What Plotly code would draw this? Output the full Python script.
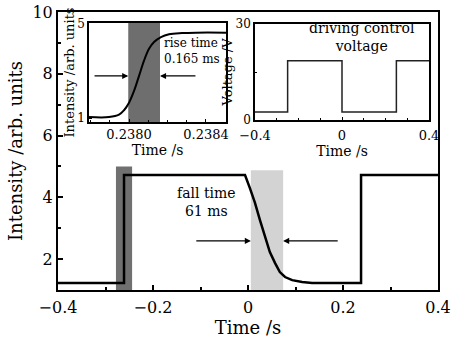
import plotly.graph_objects as go

# ---- main trace: intensity vs time ----
main_t = [-0.4, -0.261, -0.261, -0.0063, 0.004, 0.0147, 0.025, 0.036, 0.046, 0.057,
          0.067, 0.078, 0.093, 0.114, 0.135, 0.238, 0.238, 0.4]
main_I = [1.23, 1.23, 4.72, 4.72, 4.30, 3.82, 3.27, 2.72, 2.23, 1.87,
          1.58, 1.42, 1.32, 1.26, 1.23, 1.23, 4.72, 4.72]
rise_band_main = [-0.278, -0.244]
fall_band_main = [0.006, 0.074]
main_xticks = [-0.4, -0.2, 0, 0.2, 0.4]
main_xticktext = ["\u22120.4", "\u22120.2", "0", "0.2", "0.4"]
main_yticks = [2, 4, 6, 8, 10]

# ---- inset 1: rise detail ----
rise_t = [0.237792, 0.237896, 0.237948, 0.237974, 0.238000, 0.238026, 0.238052, 0.238078,
          0.238104, 0.238130, 0.238166, 0.238208, 0.238275, 0.238348, 0.238504]
rise_I = [1.04, 1.04, 1.14, 1.33, 1.65, 2.15, 2.79, 3.44,
          3.94, 4.23, 4.44, 4.56, 4.61, 4.63, 4.63]
rise_band = [0.237996, 0.238161]
inset1_xticks = [0.2380, 0.2384]
inset1_xticktext = ["0.2380", "0.2384"]
inset1_yticks = [1, 5]

# ---- inset 2: driving voltage ----
volt_t = [-0.4, -0.25, -0.25, 0.0, 0.0, 0.25, 0.25, 0.4]
volt_V = [2.5, 2.5, 18.5, 18.5, 2.5, 2.5, 18.5, 18.5]
inset2_xticks = [-0.4, 0, 0.4]
inset2_xticktext = ["\u22120.4", "0", "0.4"]
inset2_yticks = [0, 30]

FONT = "DejaVu Serif"

fig = go.Figure()
fig.add_trace(go.Scatter(x=main_t, y=main_I, mode="lines",
                         line=dict(color="black", width=2.5), xaxis="x", yaxis="y",
                         showlegend=False, hoverinfo="skip"))
fig.add_trace(go.Scatter(x=rise_t, y=rise_I, mode="lines", line_shape="spline",
                         line=dict(color="black", width=2), xaxis="x2", yaxis="y2",
                         showlegend=False, hoverinfo="skip"))
fig.add_trace(go.Scatter(x=volt_t, y=volt_V, mode="lines",
                         line=dict(color="#222", width=1.5), xaxis="x3", yaxis="y3",
                         showlegend=False, hoverinfo="skip"))

shapes = [
    dict(type="rect", xref="x", yref="y", x0=rise_band_main[0], x1=rise_band_main[1],
         y0=1, y1=5.0, fillcolor="#707070", line_width=0, layer="below"),
    dict(type="rect", xref="x", yref="y", x0=fall_band_main[0], x1=fall_band_main[1],
         y0=1, y1=4.88, fillcolor="#d3d3d3", line_width=0, layer="below"),
    dict(type="rect", xref="x2", yref="y2", x0=rise_band[0], x1=rise_band[1],
         y0=0.83, y1=5.04, fillcolor="#6e6e6e", line_width=0, layer="below"),
]

def arrow(xs, xe, y, xa, ya):
    return dict(x=xe, y=y, ax=xs, ay=y, xref=xa, yref=ya, axref=xa, ayref=ya,
                showarrow=True, arrowhead=2, arrowsize=1.1, arrowwidth=1.1,
                arrowcolor="black", text="")

annotations = [
    arrow(-0.112, fall_band_main[0], 2.59, "x", "y"),
    arrow(0.192, fall_band_main[1], 2.59, "x", "y"),
    arrow(0.237813, rise_band[0], 2.79, "x2", "y2"),
    arrow(0.238353, rise_band[1], 2.79, "x2", "y2"),
    dict(x=-0.087, y=3.85, xref="x", yref="y", text="fall time<br>61 ms", showarrow=False,
         font=dict(family=FONT, size=14, color="black"), align="center"),
    dict(x=0.238172, y=3.85, xref="x2", yref="y2", text="rise time<br>0.165 ms", showarrow=False,
         xanchor="left", font=dict(family=FONT, size=12, color="black"), align="left"),
    dict(x=0.09, y=25.8, xref="x3", yref="y3", text="driving control<br>voltage", showarrow=False,
         font=dict(family=FONT, size=14, color="black"), align="center"),
]

W, H = 466, 340
ml, mr, mt, mb = 58, 28, 12, 50
pw, ph = W - ml - mr, H - mt - mb

def dx(px):
    return (px - ml) / pw

def dy(py):
    return (H - mb - py) / ph

axis_common = dict(showline=True, mirror=True, linecolor="black", showgrid=False,
                   zeroline=False, ticks="inside", tickcolor="black", automargin=False)

fig.update_layout(
    width=W, height=H, margin=dict(l=ml, r=mr, t=mt, b=mb, autoexpand=False),
    paper_bgcolor="white", plot_bgcolor="white",
    font=dict(family=FONT, color="black"),
    shapes=shapes, annotations=annotations,
    xaxis=dict(**axis_common, domain=[0, 1], range=[-0.4, 0.4], linewidth=2,
               tickvals=main_xticks, ticktext=main_xticktext, ticklen=5, tickwidth=1.5,
               minor=dict(dtick=0.1, tick0=0, ticks="inside", ticklen=3, tickcolor="black"),
               tickfont=dict(size=16), ticklabelstandoff=2,
               title=dict(text="Time /s", font=dict(size=18), standoff=0)),
    yaxis=dict(**axis_common, domain=[0, 1], range=[1, 10], linewidth=2,
               tickvals=main_yticks, ticklen=5, tickwidth=1.5,
               minor=dict(dtick=1, tick0=0, ticks="inside", ticklen=3, tickcolor="black"),
               tickfont=dict(size=16),
               title=dict(text="Intensity /arb. units", font=dict(size=18), standoff=5)),
    xaxis2=dict(**axis_common, domain=[dx(89), dx(226)], anchor="y2",
                range=[0.237792, 0.238504], linewidth=1.5,
                tickvals=inset1_xticks, ticktext=inset1_xticktext, ticklen=3,
                minor=dict(dtick=0.0001, tick0=0.2380, ticks="inside", ticklen=2, tickcolor="black"),
                tickfont=dict(size=13),
                title=dict(text="Time /s", font=dict(size=14), standoff=0)),
    yaxis2=dict(**axis_common, domain=[dy(122), dy(23)], anchor="x2",
                range=[0.83, 5.04], linewidth=1.5,
                tickvals=inset1_yticks, ticklen=3, tickfont=dict(size=12),
                title=dict(text="Intensity /arb. units", font=dict(size=13), standoff=0)),
    xaxis3=dict(**axis_common, domain=[dx(255), dx(429)], anchor="y3",
                range=[-0.4, 0.4], linewidth=1.5,
                tickvals=inset2_xticks, ticktext=inset2_xticktext, ticklen=3,
                minor=dict(dtick=0.1, tick0=0, ticks="inside", ticklen=2, tickcolor="black"),
                tickfont=dict(size=13), ticklabelstandoff=3,
                title=dict(text="Time /s", font=dict(size=14), standoff=0)),
    yaxis3=dict(**axis_common, domain=[dy(120), dy(24)], anchor="x3",
                range=[0, 30], linewidth=1.5,
                tickvals=inset2_yticks, ticklen=3, tickfont=dict(size=12),
                minor=dict(dtick=15, tick0=0, ticks="inside", ticklen=2, tickcolor="black"),
                title=dict(text="Voltage /V", font=dict(size=13), standoff=0)),
)

fig.write_html("out.html", config={"displayModeBar": False},
               post_script="document.body.style.margin='0';")
